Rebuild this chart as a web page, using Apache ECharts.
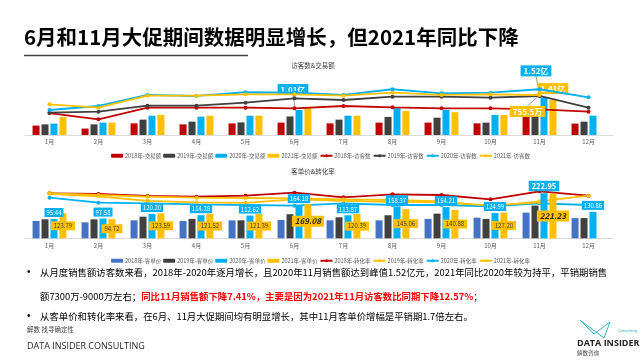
<!DOCTYPE html>
<html><head><meta charset="utf-8">
<script src="https://cdn.jsdelivr.net/npm/echarts@6/dist/echarts.min.js"></script>
<style>html,body{margin:0;padding:0;background:#fff}#c{width:641px;height:361px}</style>
</head><body><div id="c"></div>
<script>
const months = ['1月','2月','3月','4月','5月','6月','7月','8月','9月','10月','11月','12月'];
// 交易额 (亿)
const sales2018 = [0.38,0.26,0.47,0.43,0.47,0.50,0.47,0.50,0.50,0.47,0.74,0.46];
const sales2019 = [0.43,0.43,0.62,0.54,0.51,0.75,0.62,0.73,0.70,0.50,0.81,0.54];
const sales2020 = [0.46,0.50,0.78,0.74,0.78,1.01,0.78,1.08,1.01,0.81,1.52,0.78];
const sales2021 = [0.73,0.50,0.81,0.78,0.78,1.08,0.78,0.97,0.92,0.81,1.41,null];
// 访客数 (万)
const visitors2018 = [415,297,516,516,516,504,548,523,504,504,485,440];
const visitors2019 = [421,440,553,553,610,693,661,723,723,705,737,516];
const visitors2020 = [472,548,756,737,807,799,756,864,788,799,864,712];
const visitors2021 = [580,516,742,742,769,769,742,799,756,769,755.5,null];
// 客单价
const price2018 = [86,79,89,86,89,91,89,89,96,102,127,100];
const price2019 = [94,94,107,96,89,119,104,114,122,96,162,100];
const price2020 = [95.44,97.58,120.20,114.28,112.62,164.18,113.87,158.37,154.21,124.99,222.95,130.86];
const price2021 = [123.79,94.72,123.59,121.52,121.39,169.08,120.39,145.06,140.88,127.20,221.23,null];
// 转化率 (%)
const conv2018 = [4.50,4.43,4.23,4.16,4.26,4.56,4.10,4.40,4.33,3.90,4.70,4.26];
const conv2019 = [4.50,4.33,4.16,4.06,4.03,4.00,3.90,3.83,3.70,3.17,3.70,4.26];
const conv2020 = [4.06,3.56,3.50,3.40,3.33,3.26,3.50,3.33,3.33,3.20,3.50,3.33];
const conv2021 = [4.45,4.20,3.75,3.60,3.55,3.90,3.75,3.65,3.60,3.30,3.60,null];

const salesLabelIdx2020 = [5,10];
const salesLabelIdx2021 = [10];
const visitorLabelIdx2021 = [10];
const boldPriceIdx = [5,10];

const RED='#C00000', DARK='#404040', CYAN='#00B0F0', YEL='#FFC000', BLUE='#4472C4';
const FONT = '"Noto Sans CJK SC","Noto Sans",sans-serif';
const chart = echarts.init(document.getElementById('c'), null, {renderer:'canvas'});

const calloutLabel = (bg) => ({show:true, position:'top', backgroundColor:bg, color:'#fff', fontWeight:'bold',
  fontSize:8, padding:[2,3,1,3], fontFamily:FONT, formatter:(p)=>p.value.toFixed(2)+'亿'});

function barS(name, data, color, xi, yi, extra){
  return Object.assign({type:'bar', name, data, xAxisIndex:xi, yAxisIndex:yi, barWidth:7, barGap:'28%',
    itemStyle:{color}, z:2}, extra||{});
}
function lineS(name, data, color, xi, yi, extra){
  return Object.assign({type:'line', name, data, xAxisIndex:xi, yAxisIndex:yi, symbol:'circle', symbolSize:4,
    lineStyle:{color, width:1.8}, itemStyle:{color}, z:5}, extra||{});
}

const series = [
  barS('2018年-交易额', sales2018, RED, 0, 0),
  barS('2019年-交易额', sales2019, DARK, 0, 0),
  barS('2020年-交易额', sales2020.map((v,i)=> salesLabelIdx2020.includes(i) ? {value:v, label:calloutLabel(CYAN)} : v), CYAN, 0, 0, {
    labelLine:{show:true, lineStyle:{color:'#7f7f7f', width:0.8}},
    labelLayout:(p)=> p.dataIndex===5 ? {dx:-6, dy:-10} : (p.dataIndex===10 ? {dx:-8, dy:-16} : {})
  }),
  barS('2021年-交易额', sales2021.map((v,i)=> salesLabelIdx2021.includes(i) ? {value:v, label:Object.assign(calloutLabel(YEL),{distance:6})} : v), YEL, 0, 0),
  lineS('2018年-访客数', visitors2018, RED, 0, 1),
  lineS('2019年-访客数', visitors2019, DARK, 0, 1),
  lineS('2020年-访客数', visitors2020, CYAN, 0, 1),
  lineS('2021年-访客数', visitors2021.map((v,i)=> visitorLabelIdx2021.includes(i) ? {value:v, label:{show:true, position:'bottom',
    backgroundColor:YEL, color:'#fff', fontWeight:'bold', fontSize:8, padding:[2,3,1,3], fontFamily:FONT, formatter:(p)=>p.value+'万'}} : v), YEL, 0, 1, {
    labelLine:{show:true, lineStyle:{color:'#7f7f7f', width:0.8}},
    labelLayout:(p)=> p.dataIndex===10 ? {dx:-12, dy:4} : {}, z:6
  }),
  barS('2018年-客单价', price2018, BLUE, 1, 2),
  barS('2019年-客单价', price2019, DARK, 1, 2),
  barS('2020年-客单价', price2020, CYAN, 1, 2, {
    label:{show:true, position:'top', distance:2, backgroundColor:CYAN, color:'#fff', fontSize:6, padding:[2,2,1,2], fontFamily:FONT,
      formatter:(p)=>p.value.toFixed(2)},
    data: price2020.map((v,i)=> i===10 ? {value:v, label:{fontWeight:'bold', fontSize:7.5, padding:[2,3,1,3]}} : v), z:7
  }),
  barS('2021年-客单价', price2021, YEL, 1, 2, {
    label:{show:true, position:'inside', backgroundColor:YEL, color:'#404040', fontSize:6, padding:[2,3,1,3], fontFamily:FONT,
      formatter:(p)=>p.value.toFixed(2)},
    data: price2021.map((v,i)=> boldPriceIdx.includes(i) ? {value:v, label:{fontWeight:'bold', fontStyle:'italic', fontSize:8, color:'#262626'}} : v), z:7
  }),
  lineS('2018年-转化率', conv2018, RED, 1, 3),
  lineS('2019年-转化率', conv2019, YEL, 1, 3),
  lineS('2020年-转化率', conv2020, CYAN, 1, 3),
  lineS('2021年-转化率', conv2021, YEL, 1, 3),
];

const xAx = (gi) => ({type:'category', gridIndex:gi, data:months, axisTick:{show:false},
  axisLine:{lineStyle:{color:'#d9d9d9', width:1}}, axisLabel:{fontSize:6, color:'#595959', margin:4, fontFamily:FONT}});

const legendCommon = {itemWidth:12, itemHeight:4, itemGap:2, textStyle:{fontSize:5.5, color:'#595959', fontFamily:FONT, padding:[0,0,0,-3]}};

const topNames = ['2018年-交易额','2019年-交易额','2020年-交易额','2021年-交易额','2018年-访客数','2019年-访客数','2020年-访客数','2021年-访客数'];
const botNames = ['2018年-客单价','2019年-客单价','2020年-客单价','2021年-客单价','2018年-转化率','2019年-转化率','2020年-转化率','2021年-转化率'];

const option = {
  animation:false,
  textStyle:{fontFamily:FONT},
  grid:[{left:25, width:588, top:65, height:70},{left:25, width:588, top:170, height:68.3}],
  xAxis:[xAx(0), xAx(1)],
  yAxis:[
    {type:'value', gridIndex:0, min:0, max:2.828, show:false},
    {type:'value', gridIndex:0, min:0, max:1322, show:false},
    {type:'value', gridIndex:1, min:0, max:338, show:false},
    {type:'value', gridIndex:1, min:0, max:6.83, show:false},
  ],
  legend:[
    Object.assign({data:topNames, left:'center', top:148}, legendCommon),
    Object.assign({data:botNames, left:'center', top:253}, legendCommon),
  ],
  series,
  graphic:[
    {type:'text', left:24, top:27, style:{text:'6月和11月大促期间数据明显增长，但2021年同比下降', fontSize:20.5, fontWeight:'bold', fill:'#000', fontFamily:FONT}},
    {type:'line', shape:{x1:24, y1:55.5, x2:248, y2:55.5}, style:{stroke:'#404040', lineWidth:1.5}},
    {type:'text', x:313, y:66, style:{text:'访客数&交易额', fontSize:6.5, fill:'#404040', align:'center', verticalAlign:'middle', fontFamily:FONT}},
    {type:'text', x:313, y:172, style:{text:'客单价&转化率', fontSize:6.5, fill:'#404040', align:'center', verticalAlign:'middle', fontFamily:FONT}},
    {type:'text', x:27, y:272, style:{text:'•', fontSize:10, fill:'#000', verticalAlign:'middle'}},
    {type:'text', x:40, y:272, style:{text:'从月度销售额访客数来看，2018年-2020年逐月增长，且2020年11月销售额达到峰值1.52亿元，2021年同比2020年较为持平，平销期销售', fontSize:9.4, fill:'#000', verticalAlign:'middle', fontFamily:FONT}},
    {type:'text', x:40, y:296, style:{text:'{a|额7300万-9000万左右；}{b|同比11月销售额下降7.41%，主要是因为2021年11月访客数比同期下降12.57%}{a|；}', verticalAlign:'middle', fontFamily:FONT,
      rich:{a:{fontSize:9.4, fill:'#000', fontFamily:FONT}, b:{fontSize:9.4, fill:'#FF0000', fontWeight:'bold', fontFamily:FONT}}}},
    {type:'text', x:27, y:316, style:{text:'•', fontSize:10, fill:'#000', verticalAlign:'middle'}},
    {type:'text', x:40, y:316, style:{text:'从客单价和转化率来看，在6月、11月大促期间均有明显增长，其中11月客单价增幅是平销期1.7倍左右。', fontSize:9.4, fill:'#000', verticalAlign:'middle', fontFamily:FONT}},
    {type:'text', x:27, y:330, style:{text:'解数 找寻确定性', fontSize:6.5, fill:'#404040', verticalAlign:'middle', fontFamily:FONT}},
    {type:'text', x:27, y:346, style:{text:'DATA INSIDER CONSULTING', fontSize:9, fill:'#262626', verticalAlign:'middle', fontFamily:'"Open Sans",sans-serif'}},
    {type:'polyline', shape:{points:[[580,320],[594,334],[610,322],[604,338],[580,320]]}, style:{stroke:'#36B5C8', lineWidth:1, fill:null}},
    {type:'text', x:618, y:331, style:{text:'Consulting', fontSize:4, fill:'#36B5C8', verticalAlign:'middle'}},
    {type:'text', x:577, y:343, style:{text:'DATA INSIDER', fontSize:9, fontWeight:'bold', fill:'#262626', verticalAlign:'middle', fontFamily:'"Open Sans",sans-serif'}},
    {type:'text', x:577, y:353, style:{text:'解数咨询', fontSize:5.5, fill:'#404040', verticalAlign:'middle', fontFamily:FONT}},
  ]
};
chart.setOption(option);
</script></body></html>
